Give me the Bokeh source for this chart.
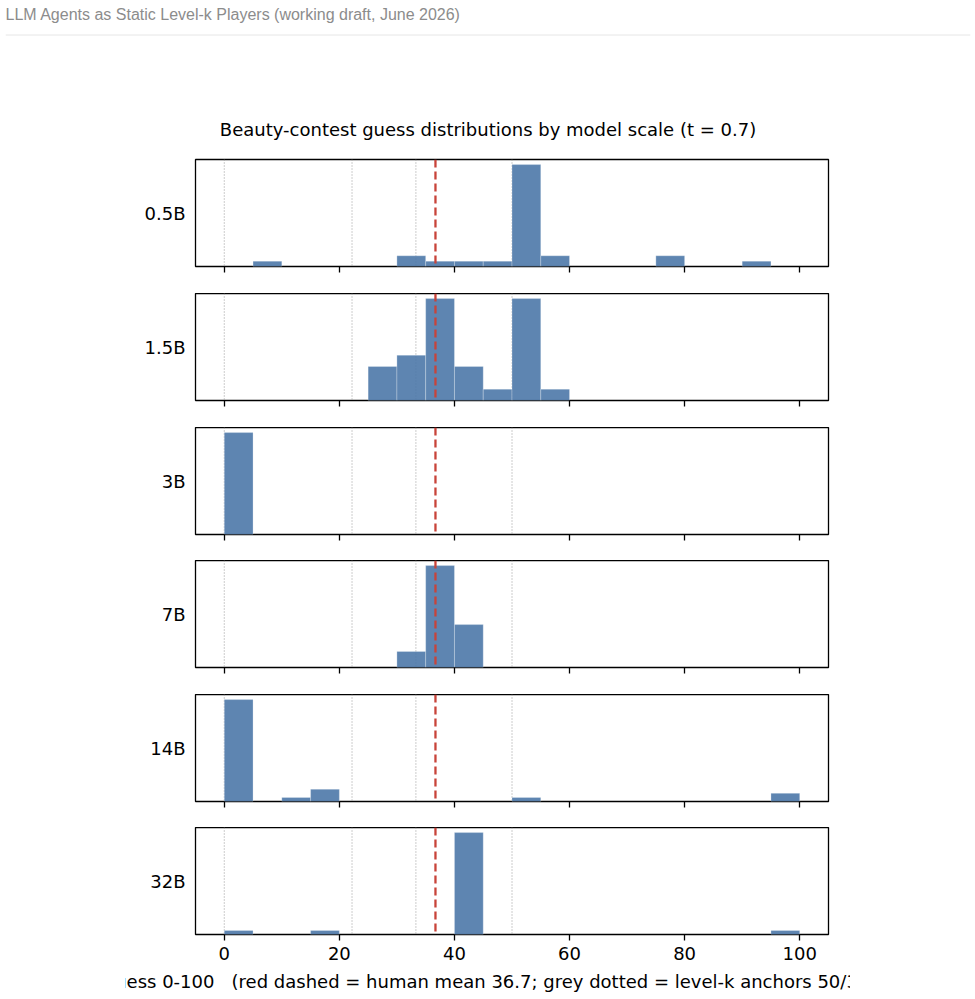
import numpy as np
from bokeh.plotting import figure
from bokeh.layouts import column, row
from bokeh.models import Range1d, Label, Span, FixedTicker, Spacer
from bokeh.embed import file_html
from bokeh.resources import INLINE

# ---- texts ----
PAGE_HEADER = "LLM Agents as Static Level-k Players (working draft, June 2026)"
TITLE = "Beauty-contest guess distributions by model scale (t = 0.7)"
GAP = "\u00a0\u00a0\u00a0"
XLABEL = "Guess 0-100" + GAP + "(red dashed = human mean 36.7; grey dotted = level-k anchors 50/33/22/0)"

# ---- data: guess counts in 5-point bins (0-5, 5-10, ..., 95-100) ----
MODELS = ["0.5B", "1.5B", "3B", "7B", "14B", "32B"]
BIN_EDGES = list(range(0, 105, 5))
COUNTS_0_5B = [0, 1, 0, 0, 0, 0, 2, 1, 1, 1, 19, 2, 0, 0, 0, 2, 0, 0, 1, 0]
COUNTS_1_5B = [0, 0, 0, 0, 0, 3, 4, 9, 3, 1, 9, 1, 0, 0, 0, 0, 0, 0, 0, 0]
COUNTS_3B = [30, 0, 0, 0, 0, 0, 0, 0, 0, 0, 0, 0, 0, 0, 0, 0, 0, 0, 0, 0]
COUNTS_7B = [0, 0, 0, 0, 0, 0, 3, 19, 8, 0, 0, 0, 0, 0, 0, 0, 0, 0, 0, 0]
COUNTS_14B = [25, 0, 1, 3, 0, 0, 0, 0, 0, 0, 1, 0, 0, 0, 0, 0, 0, 0, 0, 2]
COUNTS_32B = [1, 0, 0, 1, 0, 0, 0, 0, 25, 0, 0, 0, 0, 0, 0, 0, 0, 0, 0, 1]
ALL_COUNTS = [COUNTS_0_5B, COUNTS_1_5B, COUNTS_3B, COUNTS_7B, COUNTS_14B, COUNTS_32B]

HUMAN_MEAN = 36.7
LEVEL_K_ANCHORS = [50, 33.3, 22.2, 0]
X_TICKS = [0, 20, 40, 60, 80, 100]

# ---- style ----
FONT = "DejaVu Sans"
FS = "18px"
TITLE_FS = "18px"
BAR_COLOR = "#4C78A8"
RED = "#c8433a"
FRAME_H = 107
FIG_W = 725

# header strip with the page title, rule and the chart title
header = figure(width=975, height=150, x_range=Range1d(0, 1), y_range=Range1d(150, 0),
                x_axis_location=None, y_axis_location=None, title=None,
                toolbar_location=None, tools="", output_backend="svg",
                min_border_left=5, min_border_right=5, min_border_top=0, min_border_bottom=0)
header.outline_line_color = None
header.grid.visible = False
header.add_layout(Label(x=0, y=14, text=PAGE_HEADER, text_align="left",
                        text_baseline="alphabetic", text_font="Liberation Sans",
                        text_font_size="16px", text_color="#8c8c8c"))
header.add_layout(Span(location=34.5, dimension="width", line_color="#e6e6e6", line_width=1))
header.add_layout(Label(x=0.5, y=129, text=TITLE, text_align="center",
                        text_baseline="alphabetic", text_font=FONT,
                        text_font_size=TITLE_FS, text_color="black"))

# vertical borders (top, bottom) for each stacked panel
BORDERS = [(9, 27), (0, 27), (0, 26), (0, 27), (0, 26), (0, 65)]

panels = []
for i, (name, counts) in enumerate(zip(MODELS, ALL_COUNTS)):
    top_b, bot_b = BORDERS[i]
    last = i == len(MODELS) - 1
    ymax = max(counts) * 1.05
    p = figure(width=FIG_W, height=top_b + FRAME_H + bot_b,
               x_range=Range1d(-5, 105), y_range=Range1d(0, ymax),
               title=None, toolbar_location=None, tools="", output_backend="svg",
               min_border_left=70, min_border_right=22,
               min_border_top=top_b, min_border_bottom=bot_b)
    p.grid.visible = False
    p.outline_line_color = "black"
    p.outline_line_width = 1.3
    p.background_fill_color = "white"
    p.border_fill_color = "white"

    # level-k anchors behind the bars
    for a in LEVEL_K_ANCHORS:
        p.add_layout(Span(location=a, dimension="height", line_color="#999999",
                          line_width=1, line_dash="1 2", level="underlay"))

    keep = [j for j, c in enumerate(counts) if c > 0]
    p.quad(left=[BIN_EDGES[j] for j in keep], right=[BIN_EDGES[j + 1] for j in keep],
           bottom=0, top=[counts[j] for j in keep],
           fill_color=BAR_COLOR, fill_alpha=0.9,
           line_color="white", line_width=0.5, line_alpha=0.5)

    # human mean
    p.add_layout(Span(location=HUMAN_MEAN, dimension="height", line_color=RED,
                      line_width=2.3, line_dash="8 4"))

    # x axis
    xa = p.xaxis[0]
    xa.ticker = FixedTicker(ticks=X_TICKS)
    xa.axis_line_color = None
    xa.minor_tick_line_color = None
    xa.major_tick_in = 0
    xa.major_tick_out = 6
    xa.major_tick_line_width = 1.3
    xa.major_tick_line_color = "black"
    if last:
        xa.major_label_text_font = FONT
        xa.major_label_text_font_size = FS
        xa.major_label_text_color = "black"
        xa.major_label_standoff = 6
        xa.axis_label = XLABEL
        xa.axis_label_text_font = FONT
        xa.axis_label_text_font_size = FS
        xa.axis_label_text_font_style = "normal"
        xa.axis_label_text_color = "black"
        xa.axis_label_standoff = 8
    else:
        # tick marks only, labels are shared with the bottom panel
        xa.major_label_text_font_size = "1px"
        xa.major_label_text_color = None
        xa.major_label_standoff = 0

    # model name as a single horizontal label on the left
    ya = p.yaxis[0]
    mid = ymax / 2
    ya.ticker = FixedTicker(ticks=[mid])
    ya.major_label_overrides = {mid: name}
    ya.axis_line_color = None
    ya.major_tick_line_color = None
    ya.minor_tick_line_color = None
    ya.major_tick_in = 0
    ya.major_tick_out = 0
    ya.major_label_standoff = 10
    ya.major_label_text_font = FONT
    ya.major_label_text_font_size = FS
    ya.major_label_text_color = "black"

    panels.append(p)

layout = column(header, row(Spacer(width=125), column(*panels, spacing=0), spacing=0), spacing=0)

open("out.html", "w").write(file_html(layout, INLINE))
